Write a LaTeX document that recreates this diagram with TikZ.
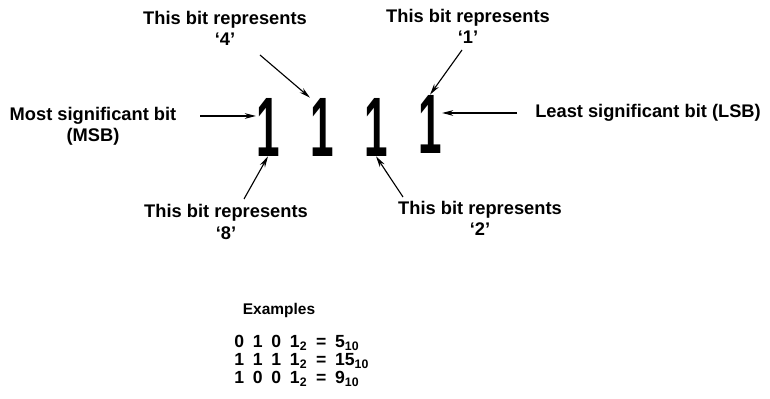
\documentclass[tikz,border=0pt]{standalone}
\usepackage{fontspec}
\setmainfont{Liberation Sans}
\usetikzlibrary{arrows.meta}

\tikzset{
    bit/.style={inner sep=0pt, font=\fontsize{60}{60}\selectfont\bfseries},
    lbl/.style={align=center, inner sep=0pt, font=\fontsize{13}{15}\selectfont\bfseries},
    ptr/.style={-{Stealth[length=8pt,width=4pt]}, line width=0.8pt},
}
\newcommand{\bigone}{\scalebox{0.5}[1]{1}}
\newcommand{\sep}{\enspace}

\begin{document}
\begin{tikzpicture}[x=0.025cm, y=-0.025cm]
    \useasboundingbox (0,0) rectangle (770,399);

    % the four bits
    \node[bit] (b3) at (268,127) {\bigone};
    \node[bit] (b2) at (322,127) {\bigone};
    \node[bit] (b1) at (376,127) {\bigone};
    \node[bit] (b0) at (430,124) {\bigone};

    % labels
    \node[lbl] (msb) at (93,126) {Most significant bit\\(MSB)};
    \node[lbl] (lsb) at (648,113) {Least significant bit (LSB)};
    \node[lbl] (four) at (225,28) {This bit represents\\`4'};
    \node[lbl] (one) at (468,26) {This bit represents\\`1'};
    \node[lbl] (eight) at (226,222) {This bit represents\\`8'};
    \node[lbl] (two) at (480,218) {This bit represents\\`2'};

    % arrow tails
    \coordinate (tmsb) at (200,116);
    \coordinate (tlsb) at (517,113);
    \coordinate (tfour) at (260,55);
    \coordinate (tone) at (462,50);
    \coordinate (teight) at (244,199);
    \coordinate (ttwo) at (403,197);

    \draw[ptr] (tmsb) -- (b3.west |- tmsb);
    \draw[ptr] (tlsb) -- (b0.east |- tlsb);
    \draw[ptr] (tfour) -- (b2.north west);
    \draw[ptr] (tone) -- (b0.north);
    \draw[ptr] (teight) -- (b3.south);
    \draw[ptr] (ttwo) -- (b1.south);

    % examples
    \node[lbl, font=\fontsize{11}{13}\selectfont\bfseries] (ex) at (279,311) {Examples};
    \node[anchor=west, align=left, inner sep=0pt, font=\fontsize{12.5}{12.8}\selectfont\bfseries] (eqs) at (234,361)
        {0\sep1\sep0\sep1\textsubscript{2}\sep=\sep5\textsubscript{10}\\
         1\sep1\sep1\sep1\textsubscript{2}\sep=\sep15\textsubscript{10}\\
         1\sep0\sep0\sep1\textsubscript{2}\sep=\sep9\textsubscript{10}};
\end{tikzpicture}
\end{document}
